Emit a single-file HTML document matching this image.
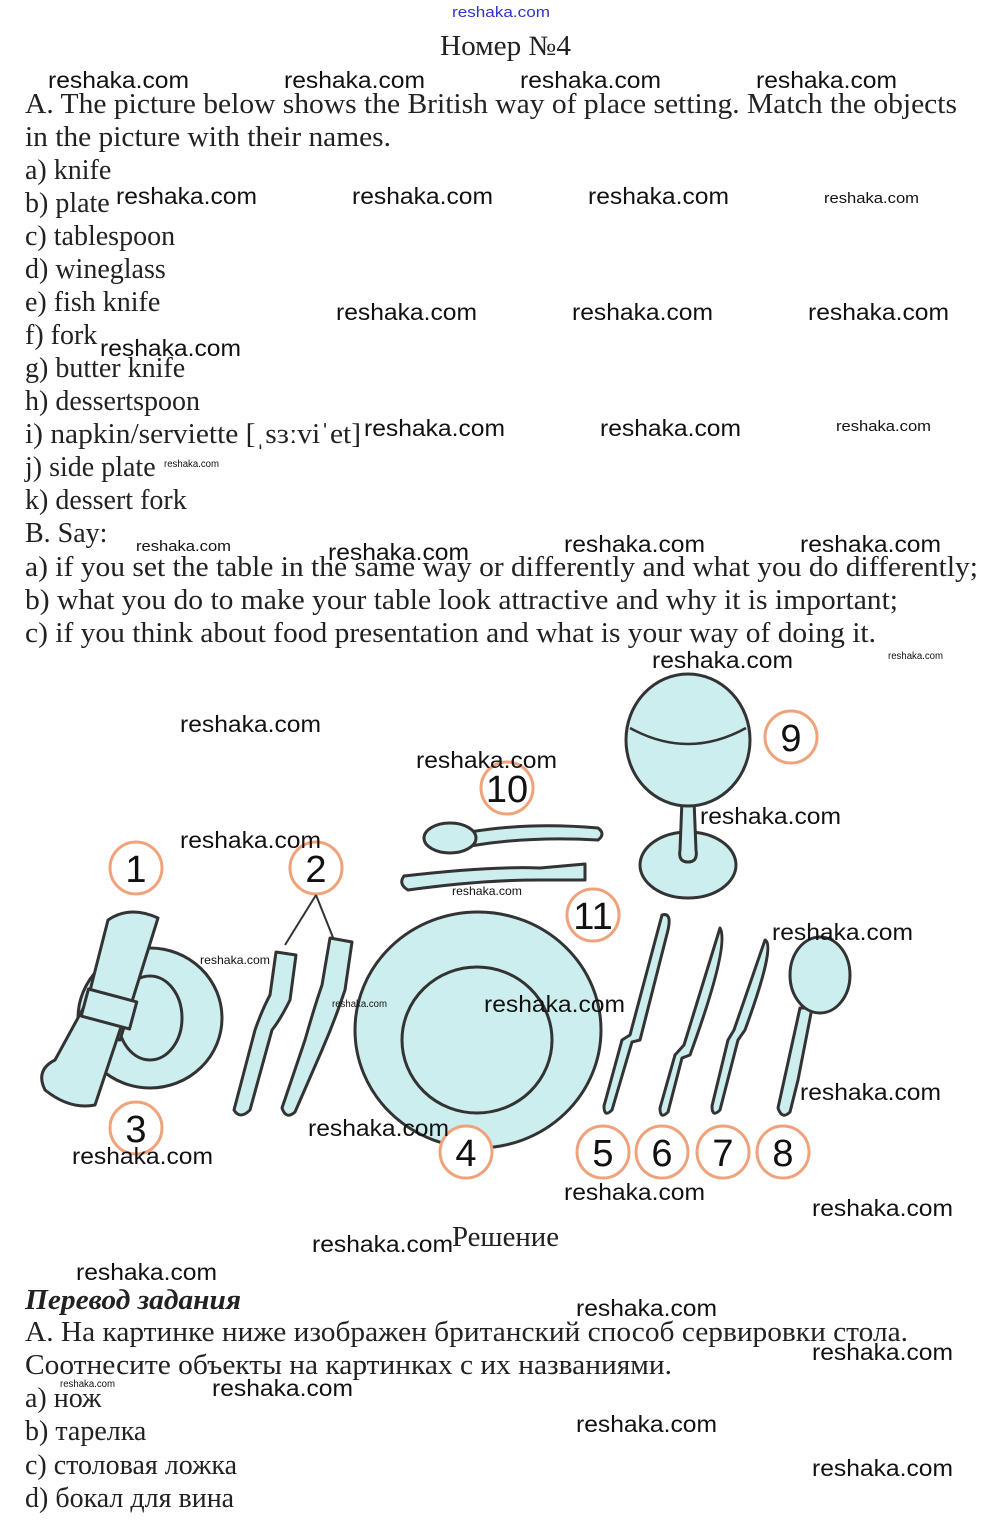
<!DOCTYPE html>
<html><head><meta charset="utf-8"><style>
html,body{margin:0;padding:0;background:#fff}
svg{display:block}
.t{font-family:"Liberation Serif",serif;font-size:28px;fill:#222}
.w{font-family:"Liberation Sans",sans-serif;font-size:23px;fill:#111}
.ws{font-family:"Liberation Sans",sans-serif;font-size:15px;fill:#111}
.wt{font-family:"Liberation Sans",sans-serif;font-size:10px;fill:#111}
.n{font-family:"Liberation Sans",sans-serif;font-size:38px;fill:#111;text-anchor:middle}
.o{fill:#fff;stroke:#f0a27a;stroke-width:3}
.s{fill:#cdeeee;stroke:#333;stroke-width:3;stroke-linejoin:round}
</style></head><body>
<svg width="1000" height="1539" viewBox="0 0 1000 1539" xmlns="http://www.w3.org/2000/svg">
<text x="452" y="17" style="font-family:'Liberation Sans',sans-serif;font-size:15px;fill:#33c" textLength="98" lengthAdjust="spacingAndGlyphs">reshaka.com</text>
<text class="t" x="440" y="55" textLength="131" lengthAdjust="spacingAndGlyphs">Номер №4</text>

<text class="t" x="25" y="113" textLength="932" lengthAdjust="spacingAndGlyphs">A. The picture below shows the British way of place setting. Match the objects</text>
<text class="t" x="25" y="146" textLength="366" lengthAdjust="spacingAndGlyphs">in the picture with their names.</text>
<text class="t" x="25" y="179">a) knife</text>
<text class="t" x="25" y="212">b) plate</text>
<text class="t" x="25" y="245">c) tablespoon</text>
<text class="t" x="25" y="278">d) wineglass</text>
<text class="t" x="25" y="311">e) fish knife</text>
<text class="t" x="25" y="344">f) fork</text>
<text class="t" x="25" y="377">g) butter knife</text>
<text class="t" x="25" y="410">h) dessertspoon</text>
<text class="t" x="25" y="443" textLength="336" lengthAdjust="spacingAndGlyphs">i) napkin/serviette [ˌsɜːviˈet]</text>
<text class="t" x="25" y="476">j) side plate</text>
<text class="t" x="25" y="509">k) dessert fork</text>
<text class="t" x="25" y="542">B. Say:</text>
<text class="t" x="25" y="576" textLength="953" lengthAdjust="spacingAndGlyphs">a) if you set the table in the same way or differently and what you do differently;</text>
<text class="t" x="25" y="609" textLength="873" lengthAdjust="spacingAndGlyphs">b) what you do to make your table look attractive and why it is important;</text>
<text class="t" x="25" y="642" textLength="851" lengthAdjust="spacingAndGlyphs">c) if you think about food presentation and what is your way of doing it.</text>

<!-- picture -->
<!-- glass -->
<path class="s" d="M640,865 a48,33 0 1,0 96,0 a48,33 0 1,0 -96,0 Z"/>
<path class="s" d="M682,800 L680,850 Q678,862 688,862 Q698,862 696,850 L694,800 Z"/>
<ellipse class="s" cx="688" cy="740" rx="62" ry="66"/>
<path d="M630,728 Q688,760 746,728" fill="none" stroke="#333" stroke-width="2.5"/>
<circle class="o" cx="791" cy="737" r="26"/><text class="n" x="791" y="751">9</text>
<circle class="o" cx="507" cy="788" r="26"/><text class="n" x="507" y="802">10</text>
<!-- spoon 10 -->
<path class="s" d="M470,832 Q530,822 598,828 Q606,834 598,840 Q530,836 470,846 Z"/>
<ellipse class="s" cx="450" cy="838" rx="26" ry="15"/>
<!-- fork 11 -->
<path class="s" d="M404,876 Q490,866 540,868 L585,864 L585,880 L540,880 Q480,880 408,890 Q398,884 404,876 Z"/>
<circle class="o" cx="593" cy="915" r="26"/><text class="n" x="593" y="929">11</text>
<!-- side plate & napkin -->
<ellipse class="s" cx="150" cy="1018" rx="72" ry="70"/>
<ellipse cx="150" cy="1018" rx="32" ry="42" fill="none" stroke="#333" stroke-width="3"/>
<path class="s" d="M108,920 Q130,905 158,918 L120,1040 L80,1030 Z"/>
<path class="s" d="M85,1005 L125,1015 L95,1105 Q70,1110 45,1090 Q35,1070 55,1060 Z"/>
<rect class="s" x="84" y="995" width="50" height="28" transform="rotate(15 109 1009)"/>
<circle class="o" cx="136" cy="868" r="26"/><text class="n" x="136" y="882">1</text>
<circle class="o" cx="136" cy="1128" r="26"/><text class="n" x="136" y="1142">3</text>
<!-- forks 2 -->
<circle class="o" cx="316" cy="868" r="26"/><text class="n" x="316" y="882">2</text>
<path d="M316,895 L285,945 M316,895 L334,940" stroke="#333" stroke-width="2" fill="none"/>
<path class="s" d="M276,952 L296,955 L290,1000 Q280,1020 272,1030 L250,1110 Q240,1120 234,1110 L255,1030 Q262,1010 270,995 Z"/>
<path class="s" d="M330,938 L352,942 L345,990 Q335,1020 322,1050 L295,1112 Q286,1120 282,1108 L305,1040 Q315,1005 322,985 Z"/>
<!-- main plate -->
<ellipse class="s" cx="478" cy="1030" rx="123" ry="118"/>
<ellipse cx="477" cy="1040" rx="75" ry="73" fill="none" stroke="#333" stroke-width="3"/>
<circle class="o" cx="466" cy="1152" r="26"/><text class="n" x="466" y="1166">4</text>
<!-- knives -->
<path class="s" d="M662,915 Q672,912 668,930 L640,1040 L632,1042 L612,1110 Q604,1118 604,1106 L622,1040 L630,1035 Z"/>
<path class="s" d="M720,928 Q730,945 690,1055 L682,1058 L668,1112 Q660,1120 660,1108 L675,1055 L684,1045 Z"/>
<path class="s" d="M765,940 Q776,945 745,1030 L738,1040 L720,1110 Q712,1118 712,1106 L728,1040 L734,1030 Z"/>
<path class="s" d="M812,1008 L798,1080 L790,1112 Q782,1120 778,1108 L800,1008 Z"/>
<ellipse class="s" cx="820" cy="975" rx="30" ry="38"/>
<circle class="o" cx="603" cy="1152" r="26"/><text class="n" x="603" y="1166">5</text>
<circle class="o" cx="662" cy="1152" r="26"/><text class="n" x="662" y="1166">6</text>
<circle class="o" cx="723" cy="1152" r="26"/><text class="n" x="723" y="1166">7</text>
<circle class="o" cx="783" cy="1152" r="26"/><text class="n" x="783" y="1166">8</text>

<!-- Russian -->
<text class="t" x="452" y="1246" textLength="107" lengthAdjust="spacingAndGlyphs">Решение</text>
<text class="t" x="25" y="1309" style="font-weight:bold;font-style:italic" textLength="216" lengthAdjust="spacingAndGlyphs">Перевод задания</text>
<text class="t" x="25" y="1341" textLength="883" lengthAdjust="spacingAndGlyphs">A. На картинке ниже изображен британский способ сервировки стола.</text>
<text class="t" x="25" y="1374" textLength="647" lengthAdjust="spacingAndGlyphs">Соотнесите объекты на картинках с их названиями.</text>
<text class="t" x="25" y="1407">a) нож</text>
<text class="t" x="25" y="1440">b) тарелка</text>
<text class="t" x="25" y="1474">c) столовая ложка</text>
<text class="t" x="25" y="1507">d) бокал для вина</text>

<!-- watermarks -->
<g class="w">
<text x="48" y="88" textLength="141" lengthAdjust="spacingAndGlyphs">reshaka.com</text>
<text x="284" y="88" textLength="141" lengthAdjust="spacingAndGlyphs">reshaka.com</text>
<text x="520" y="88" textLength="141" lengthAdjust="spacingAndGlyphs">reshaka.com</text>
<text x="756" y="88" textLength="141" lengthAdjust="spacingAndGlyphs">reshaka.com</text>
<text x="116" y="204" textLength="141" lengthAdjust="spacingAndGlyphs">reshaka.com</text>
<text x="352" y="204" textLength="141" lengthAdjust="spacingAndGlyphs">reshaka.com</text>
<text x="588" y="204" textLength="141" lengthAdjust="spacingAndGlyphs">reshaka.com</text>
<text x="336" y="320" textLength="141" lengthAdjust="spacingAndGlyphs">reshaka.com</text>
<text x="572" y="320" textLength="141" lengthAdjust="spacingAndGlyphs">reshaka.com</text>
<text x="808" y="320" textLength="141" lengthAdjust="spacingAndGlyphs">reshaka.com</text>
<text x="100" y="356" textLength="141" lengthAdjust="spacingAndGlyphs">reshaka.com</text>
<text x="364" y="436" textLength="141" lengthAdjust="spacingAndGlyphs">reshaka.com</text>
<text x="600" y="436" textLength="141" lengthAdjust="spacingAndGlyphs">reshaka.com</text>
<text x="328" y="560" textLength="141" lengthAdjust="spacingAndGlyphs">reshaka.com</text>
<text x="564" y="552" textLength="141" lengthAdjust="spacingAndGlyphs">reshaka.com</text>
<text x="800" y="552" textLength="141" lengthAdjust="spacingAndGlyphs">reshaka.com</text>
<text x="652" y="668" textLength="141" lengthAdjust="spacingAndGlyphs">reshaka.com</text>
<text x="180" y="732" textLength="141" lengthAdjust="spacingAndGlyphs">reshaka.com</text>
<text x="416" y="768" textLength="141" lengthAdjust="spacingAndGlyphs">reshaka.com</text>
<text x="700" y="824" textLength="141" lengthAdjust="spacingAndGlyphs">reshaka.com</text>
<text x="180" y="848" textLength="141" lengthAdjust="spacingAndGlyphs">reshaka.com</text>
<text x="772" y="940" textLength="141" lengthAdjust="spacingAndGlyphs">reshaka.com</text>
<text x="484" y="1012" textLength="141" lengthAdjust="spacingAndGlyphs">reshaka.com</text>
<text x="800" y="1100" textLength="141" lengthAdjust="spacingAndGlyphs">reshaka.com</text>
<text x="308" y="1136" textLength="141" lengthAdjust="spacingAndGlyphs">reshaka.com</text>
<text x="72" y="1164" textLength="141" lengthAdjust="spacingAndGlyphs">reshaka.com</text>
<text x="564" y="1200" textLength="141" lengthAdjust="spacingAndGlyphs">reshaka.com</text>
<text x="812" y="1216" textLength="141" lengthAdjust="spacingAndGlyphs">reshaka.com</text>
<text x="312" y="1252" textLength="141" lengthAdjust="spacingAndGlyphs">reshaka.com</text>
<text x="76" y="1280" textLength="141" lengthAdjust="spacingAndGlyphs">reshaka.com</text>
<text x="576" y="1316" textLength="141" lengthAdjust="spacingAndGlyphs">reshaka.com</text>
<text x="812" y="1360" textLength="141" lengthAdjust="spacingAndGlyphs">reshaka.com</text>
<text x="212" y="1396" textLength="141" lengthAdjust="spacingAndGlyphs">reshaka.com</text>
<text x="576" y="1432" textLength="141" lengthAdjust="spacingAndGlyphs">reshaka.com</text>
<text x="812" y="1476" textLength="141" lengthAdjust="spacingAndGlyphs">reshaka.com</text>
</g>
<g class="ws">
<text x="824" y="203" textLength="95" lengthAdjust="spacingAndGlyphs">reshaka.com</text>
<text x="836" y="431" textLength="95" lengthAdjust="spacingAndGlyphs">reshaka.com</text>
<text x="136" y="551" textLength="95" lengthAdjust="spacingAndGlyphs">reshaka.com</text>
</g>
<g class="wt">
<text x="164" y="467" textLength="55" lengthAdjust="spacingAndGlyphs">reshaka.com</text>
<text x="888" y="659" textLength="55" lengthAdjust="spacingAndGlyphs">reshaka.com</text>
<text x="452" y="895" style="font-size:12px" textLength="70" lengthAdjust="spacingAndGlyphs">reshaka.com</text>
<text x="200" y="964" style="font-size:12px" textLength="70" lengthAdjust="spacingAndGlyphs">reshaka.com</text>
<text x="332" y="1007" textLength="55" lengthAdjust="spacingAndGlyphs">reshaka.com</text>
<text x="60" y="1387" textLength="55" lengthAdjust="spacingAndGlyphs">reshaka.com</text>
</g>
</svg>
</body></html>
